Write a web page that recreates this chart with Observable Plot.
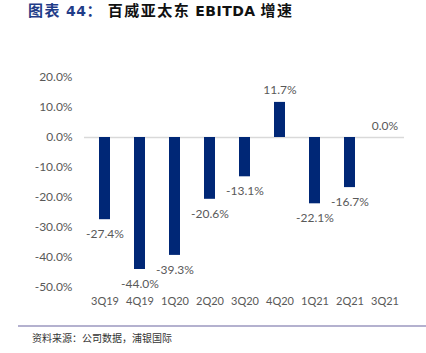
<!DOCTYPE html>
<html>
<head>
<meta charset="utf-8">
<script src="https://cdn.jsdelivr.net/npm/d3@7"></script>
<script src="https://cdn.jsdelivr.net/npm/@observablehq/plot@0.6"></script>
<style>
  html, body { margin: 0; padding: 0; background: #fff; }
  #wrap { position: relative; width: 426px; height: 353px; overflow: hidden; }
  #title { height: 24px; line-height: 20px; padding-left: 28px; font-family: "Noto Sans CJK SC", sans-serif; font-weight: bold; font-size: 15px; letter-spacing: 1.5px; color: #111; white-space: pre; }
  #title .num { color: #1f3c88; }
  #title .lat { font-family: "DejaVu Sans", sans-serif; font-size: 14px; letter-spacing: 0.5px; }
  #caption { position: relative; margin-left: 18px; width: 401px; border-top: 2px solid #b4b1cf; margin-top: 8px; padding-left: 14px; padding-top: 3px; font-family: "Noto Sans CJK SC", sans-serif; font-size: 10px; color: #333; }
  svg { display: block; }
</style>
</head>
<body>
<div id="wrap">
  <div id="title"><span class="num">图表 <span class="lat">44</span>：</span> 百威亚太东 <span class="lat">EBITDA</span> 增速</div>
  <div id="chart"></div>
  <div id="caption">资料来源：公司数据，浦银国际</div>
</div>
<script>
const quarters = ["3Q19", "4Q19", "1Q20", "2Q20", "3Q20", "4Q20", "1Q21", "2Q21", "3Q21"];
const growth = [-27.4, -44.0, -39.3, -20.6, -13.1, 11.7, -22.1, -16.7, 0.0];
const yTicks = [20, 10, 0, -10, -20, -30, -40, -50];

const data = quarters.map((q, i) => ({ q, v: growth[i] }));
const pos = data.filter(d => d.v >= 0);
const neg = data.filter(d => d.v < 0);
const fmt = v => v.toFixed(1) + "%";

const chart = Plot.plot({
  width: 426,
  height: 293,
  marginLeft: 84,
  marginRight: 22,
  marginTop: 53,
  marginBottom: 30,
  style: { fontFamily: "Lato, sans-serif", fontSize: "12px", color: "#595959", background: "#fff" },
  x: { domain: quarters, paddingInner: 0.69, paddingOuter: 0.345, label: null },
  y: { domain: [-50, 20], label: null },
  marks: [
    Plot.ruleY([0], { stroke: "#d9d9d9", strokeWidth: 1.5 }),
    Plot.barY(data, { x: "q", y: "v", fill: "#002776" }),
    Plot.text(neg, { x: "q", y: "v", text: d => fmt(d.v), lineAnchor: "top", dy: 10, fill: "#595959", fontSize: 12 }),
    Plot.text(pos, { x: "q", y: "v", text: d => fmt(d.v), lineAnchor: "bottom", dy: -8, fill: "#595959", fontSize: 12 }),
    Plot.axisY(yTicks, { tickSize: 0, tickPadding: 12, tickFormat: d => d.toFixed(1) + "%", fill: "#595959", fontSize: 12 }),
    Plot.axisX({ tickSize: 0, tickPadding: 10, fill: "#595959", fontSize: 11 })
  ]
});
document.getElementById("chart").appendChild(chart);
</script>
</body>
</html>
